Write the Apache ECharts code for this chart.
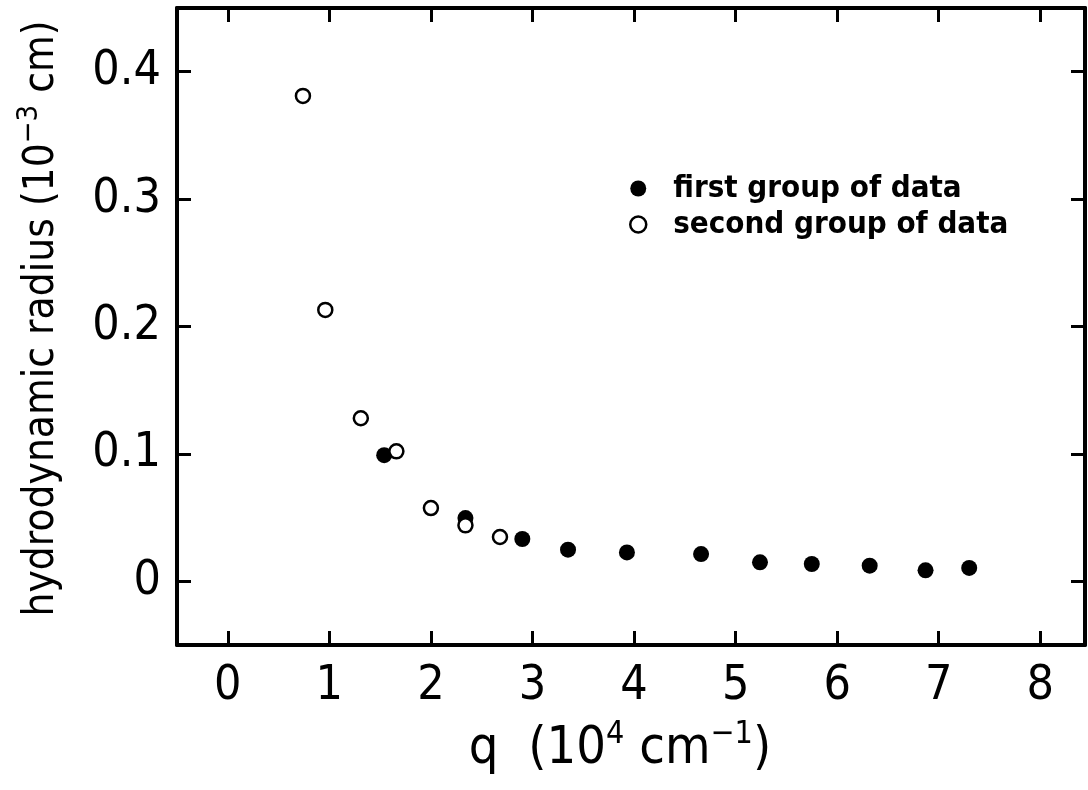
<!DOCTYPE html>
<html>
<head>
<meta charset="utf-8">
<script src="https://cdn.jsdelivr.net/npm/echarts@6/dist/echarts.min.js"></script>
<style>html,body{margin:0;padding:0;background:#fff;}#c{width:1088px;height:790px;}</style>
</head>
<body>
<div id="c"></div>
<script>
// first group of data (filled circles): q (10^4 cm^-1), radius (10^-3 cm)
const firstQ = [1.54, 2.34, 2.90, 3.35, 3.93, 4.66, 5.24, 5.75, 6.32, 6.87, 7.30];
const firstR = [0.099, 0.0496, 0.0332, 0.0248, 0.0227, 0.0214, 0.0149, 0.0136, 0.0123, 0.0086, 0.0105];
// second group of data (open circles)
const secondQ = [0.74, 0.96, 1.31, 1.66, 2.00, 2.34, 2.68];
const secondR = [0.381, 0.213, 0.128, 0.102, 0.0575, 0.0439, 0.0348];
// tick labels
const xTicks = [0, 1, 2, 3, 4, 5, 6, 7, 8];
const yTicks = [0, 0.1, 0.2, 0.3, 0.4];
const seriesNames = ['first group of data', 'second group of data'];

const FONT = '"Liberation Sans Narrow", "DejaVu Sans Condensed", "Liberation Sans", sans-serif';

const chart = echarts.init(document.getElementById('c'));
const zip = (a, b) => a.map((v, i) => [v, b[i]]);
const lineStyle = { color: '#000', width: 4 };
const tickStyle = { color: '#000', width: 3 };

const option = {
  backgroundColor: '#fff',
  animation: false,
  grid: { left: 177, top: 8, right: 3, bottom: 145, containLabel: false, outerBoundsMode: 'none' },
  legend: {
    orient: 'vertical',
    left: 624,
    top: 168,
    itemGap: 5,
    itemWidth: 16,
    itemHeight: 16,
    icon: 'circle',
    textStyle: { fontFamily: FONT, fontSize: 31, fontWeight: 'bold', color: '#000', padding: [0, 0, 0, 22] },
    data: [
      { name: seriesNames[0], itemStyle: { color: '#000', borderWidth: 0 } },
      { name: seriesNames[1], itemStyle: { color: '#fff', borderColor: '#000', borderWidth: 2.5 } }
    ]
  },
  xAxis: [
    {
      type: 'value', min: -0.5, max: 8.44, position: 'bottom',
      axisLine: { show: true, onZero: false, lineStyle },
      axisTick: { show: true, inside: true, length: 14, lineStyle: tickStyle, customValues: xTicks },
      axisLabel: { show: true, customValues: xTicks, margin: 18, fontFamily: FONT, fontSize: 48, color: '#000' },
      splitLine: { show: false },
      name: '{t|q  (10}{s|4}{t| cm}{s|−1}{t|)}',
      nameLocation: 'middle',
      nameGap: 74,
      nameTextStyle: {
        padding: [0, 22, 0, 0],
        rich: {
          t: { fontFamily: FONT, fontSize: 52, color: '#000', verticalAlign: 'bottom', lineHeight: 56 },
          s: { fontFamily: FONT, fontSize: 32, color: '#000', verticalAlign: 'top', lineHeight: 56, padding: [0, 0, 30, 0] }
        }
      }
    },
    {
      type: 'value', min: -0.5, max: 8.44, position: 'top',
      axisLine: { show: true, onZero: false, lineStyle },
      axisTick: { show: true, inside: true, length: 14, lineStyle: tickStyle, customValues: xTicks },
      axisLabel: { show: false },
      splitLine: { show: false }
    }
  ],
  yAxis: [
    {
      type: 'value', min: -0.05, max: 0.45, position: 'left',
      axisLine: { show: true, onZero: false, lineStyle },
      axisTick: { show: true, inside: true, length: 14, lineStyle: tickStyle, customValues: yTicks },
      axisLabel: { show: true, customValues: yTicks, margin: 16, fontFamily: FONT, fontSize: 48, color: '#000',
        formatter: v => (v === 0 ? '0' : v.toFixed(1)) },
      splitLine: { show: false },
      name: '{t|hydrodynamic radius (10}{s|−3}{t| cm)}',
      nameLocation: 'middle',
      nameRotate: 90,
      nameGap: 114,
      nameTextStyle: {
        padding: [0, 0, 0, 16],
        rich: {
          t: { fontFamily: FONT, fontSize: 42, color: '#000', verticalAlign: 'bottom', lineHeight: 48 },
          s: { fontFamily: FONT, fontSize: 29, color: '#000', verticalAlign: 'top', lineHeight: 48, padding: [0, 0, 24, 0] }
        }
      }
    },
    {
      type: 'value', min: -0.05, max: 0.45, position: 'right',
      axisLine: { show: true, onZero: false, lineStyle },
      axisTick: { show: true, inside: true, length: 14, lineStyle: tickStyle, customValues: yTicks },
      axisLabel: { show: false },
      splitLine: { show: false }
    }
  ],
  series: [
    {
      name: seriesNames[0], type: 'scatter', symbol: 'circle', symbolSize: 16,
      itemStyle: { color: '#000', opacity: 1 },
      data: zip(firstQ, firstR)
    },
    {
      name: seriesNames[1], type: 'scatter', symbol: 'circle', symbolSize: 14,
      itemStyle: { color: '#fff', borderColor: '#000', borderWidth: 2.5, opacity: 1 },
      data: zip(secondQ, secondR)
    }
  ]
};
chart.setOption(option);
</script>
</body>
</html>
